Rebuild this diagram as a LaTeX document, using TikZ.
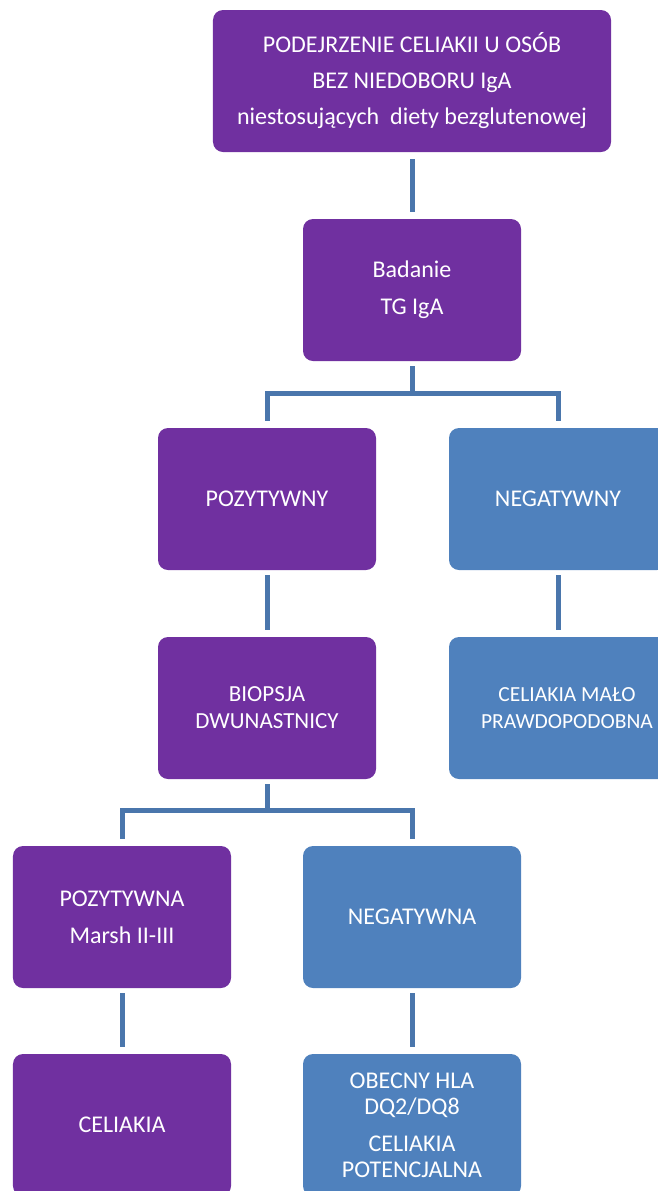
\documentclass[tikz,border=0pt]{standalone}
\usepackage{fontspec}
\setmainfont{Carlito}
\definecolor{boxpurple}{HTML}{7030A0}
\definecolor{boxblue}{HTML}{4F81BD}
\definecolor{linkblue}{HTML}{4A76AC}
\tikzset{
  stage/.style={rectangle, rounded corners=10bp, minimum width=218bp, minimum height=142bp,
    inner sep=0pt, text=white, align=center, font=\fontsize{24bp}{37bp}\selectfont},
  pos node/.style={stage, fill=boxpurple},
  neg node/.style={stage, fill=boxblue},
  link/.style={draw=linkblue, line width=5bp}
}
\begin{document}
\begin{tikzpicture}[x=1bp, y=-1bp]
  \useasboundingbox (0,0) rectangle (658,1191);
  % boxes
  \node[pos node, minimum width=398bp, font=\fontsize{24bp}{36bp}\selectfont] (start) at (412,81)
    {PODEJRZENIE CELIAKII U OSÓB\\BEZ NIEDOBORU IgA\\niestosujących\ \ diety bezglutenowej};
  \node[pos node] (badanie) at (412,290) {Badanie\\TG IgA};
  \node[pos node] (pozy) at (267,499) {POZYTYWNY};
  \node[neg node] (nega) at (558,499) {NEGATYWNY};
  \node[pos node, font=\fontsize{23bp}{27bp}\selectfont] (biopsja) at (267,708) {BIOPSJA\\DWUNASTNICY};
  \node[neg node, minimum width=236bp, font=\fontsize{21.5bp}{27bp}\selectfont] (malo) at (567,708)
    {CELIAKIA MAŁO\\PRAWDOPODOBNA};
  \node[pos node] (pozna) at (122,917) {POZYTYWNA\\Marsh II-III};
  \node[neg node] (negna) at (412,917) {NEGATYWNA};
  \node[pos node] (celiakia) at (122,1125) {CELIAKIA};
  \node[neg node, font=\fontsize{24bp}{26bp}\selectfont] (hla) at (412,1125)
    {OBECNY HLA\\DQ2/DQ8\\[11bp]CELIAKIA\\POTENCJALNA};
  % connectors
  \coordinate (split1) at ([yshift=-32bp]badanie.south);
  \coordinate (split2) at ([yshift=-31bp]biopsja.south);
  \draw[link] ([yshift=-7bp]start.south) -- ([yshift=7bp]badanie.north);
  \draw[link] ([yshift=-5bp]badanie.south) -- (split1);
  \draw[link] ([yshift=7bp]pozy.north) |- (split1) -| ([yshift=7bp]nega.north);
  \draw[link] ([yshift=-5bp]pozy.south) -- ([yshift=7bp]biopsja.north);
  \draw[link] ([yshift=-5bp]nega.south) -- ([yshift=7bp]nega.south |- malo.north);
  \draw[link] ([yshift=-5bp]biopsja.south) -- (split2);
  \draw[link] ([yshift=7bp]pozna.north) |- (split2) -| ([yshift=7bp]negna.north);
  \draw[link] ([yshift=-5bp]pozna.south) -- ([yshift=7bp]celiakia.north);
  \draw[link] ([yshift=-5bp]negna.south) -- ([yshift=7bp]hla.north);
\end{tikzpicture}
\end{document}
